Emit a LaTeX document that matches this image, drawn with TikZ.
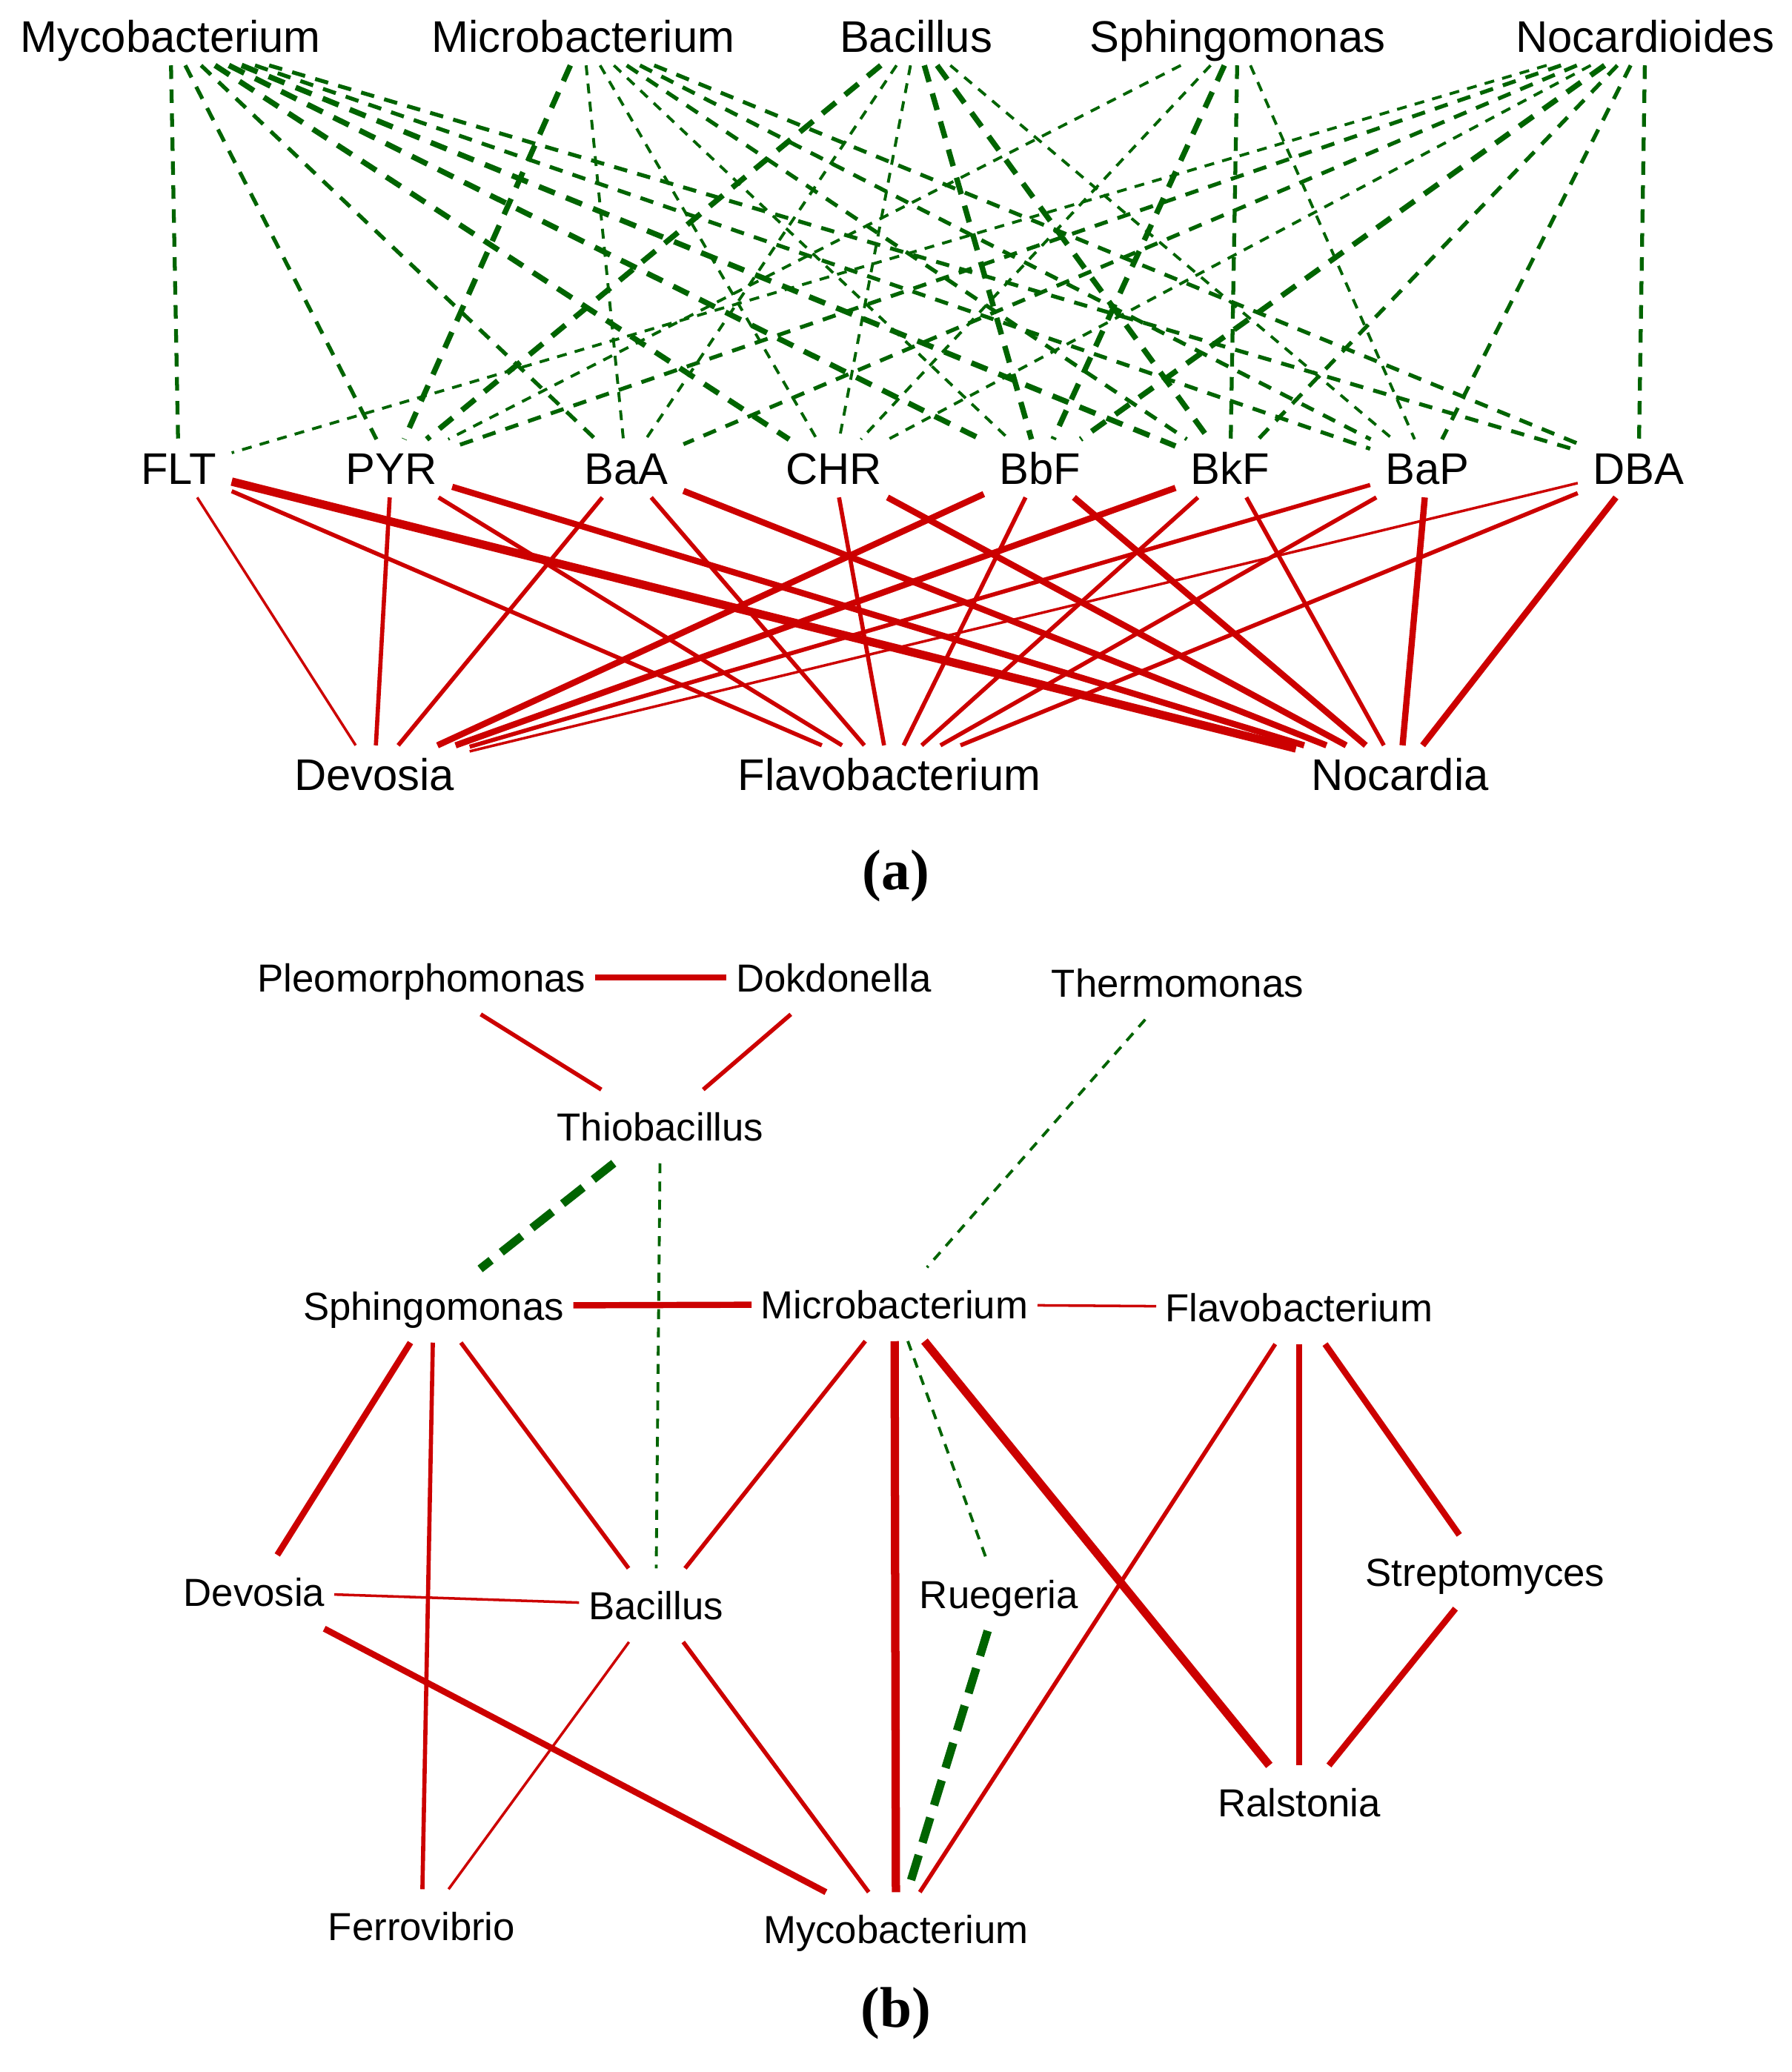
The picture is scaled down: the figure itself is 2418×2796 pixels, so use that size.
\documentclass[tikz,border=0pt]{standalone}
\usepackage{fontspec}
\setmainfont{Liberation Sans}
\newfontfamily\panelfont{Liberation Serif}
\usepackage{tikz}

\definecolor{netred}{RGB}{204,0,0}
\definecolor{netgreen}{RGB}{0,100,0}

\begin{document}
\begin{tikzpicture}[
    x=0.01cm, y=-0.01cm,
    taxon/.style={
        font=\fontsize{17}{20}\selectfont,
        text height=0.43cm,
        text depth=0pt,
        inner xsep=0.2cm,
        inner ysep=0.17cm
    },
    pah/.style={taxon},
    genus/.style={
        font=\fontsize{15}{18}\selectfont,
        text height=0.38cm,
        text depth=0pt,
        inner xsep=0.12cm,
        inner ysep=0.3cm
    },
    panel/.style={font=\panelfont\bfseries\fontsize{22}{26}\selectfont},
    redthin/.style={draw=netred, line width=1pt},
    redmid/.style={draw=netred, line width=1.6pt},
    redbold/.style={draw=netred, line width=2.4pt},
    redheavy/.style={draw=netred, line width=3.2pt},
    greenthin/.style={draw=netgreen, line width=1.1pt, dash pattern=on 3.8pt off 3.2pt},
    greenmid/.style={draw=netgreen, line width=1.5pt, dash pattern=on 5.2pt off 4pt},
    greenbold/.style={draw=netgreen, line width=2.1pt, dash pattern=on 6.6pt off 4.6pt},
    greenheavy/.style={draw=netgreen, line width=3.2pt, dash pattern=on 10pt off 5pt}
]
    \useasboundingbox (0,0) rectangle (2418,2796);

    % --- PANEL (a): TOP ROW ---
    \node[taxon] (myco)   at (230,49)  {Mycobacterium};
    \node[taxon] (micro)  at (787,49)  {Microbacterium};
    \node[taxon] (bac)    at (1236,49) {Bacillus};
    \node[taxon] (sphingo) at (1670,49) {Sphingomonas};
    \node[taxon] (nocdes) at (2220,49) {Nocardioides};

    % --- PANEL (a): PAHs ---
    \node[pah] (flt) at (241,632)  {FLT};
    \node[pah] (pyr) at (528,632)  {PYR};
    \node[pah] (baa) at (845,632)  {BaA};
    \node[pah] (chr) at (1125,632) {CHR};
    \node[pah] (bbf) at (1403,632) {BbF};
    \node[pah] (bkf) at (1660,632) {BkF};
    \node[pah] (bap) at (1926,632) {BaP};
    \node[pah] (dba) at (2211,632) {DBA};

    % --- PANEL (a): BOTTOM ROW ---
    \node[taxon] (devosia)  at (505,1045)  {Devosia};
    \node[taxon] (flavo)    at (1200,1045) {Flavobacterium};
    \node[taxon] (nocardia) at (1889,1045) {Nocardia};

    \node[panel] (capa) at (1209,1182) {(a)};

    % --- PANEL (a): NEGATIVE LINKS ---
    % Mycobacterium
    \draw[greenmid]  (myco) -- (flt);
    \draw[greenmid]  (myco) -- (pyr);
    \draw[greenmid]  (myco) -- (baa);
    \draw[greenbold] (myco) -- (chr);
    \draw[greenbold] (myco) -- (bbf);
    \draw[greenbold] (myco) -- (bkf);
    \draw[greenmid]  (myco) -- (bap);
    \draw[greenmid]  (myco) -- (dba);
    % Microbacterium
    \draw[greenbold] (micro) -- (pyr);
    \draw[greenthin] (micro) -- (baa);
    \draw[greenthin] (micro) -- (chr);
    \draw[greenthin] (micro) -- (bbf);
    \draw[greenmid]  (micro) -- (bkf);
    \draw[greenmid]  (micro) -- (bap);
    \draw[greenmid]  (micro) -- (dba);
    % Bacillus
    \draw[greenbold] (bac) -- (pyr);
    \draw[greenthin] (bac) -- (baa);
    \draw[greenthin] (bac) -- (chr);
    \draw[greenbold] (bac) -- (bbf);
    \draw[greenbold] (bac) -- (bkf);
    \draw[greenthin] (bac) -- (bap);
    % Sphingomonas
    \draw[greenthin] (sphingo) -- (pyr);
    \draw[greenthin] (sphingo) -- (chr);
    \draw[greenbold] (sphingo) -- (bbf);
    \draw[greenmid]  (sphingo) -- (bkf);
    \draw[greenthin] (sphingo) -- (bap);
    % Nocardioides
    \draw[greenthin] (nocdes) -- (flt);
    \draw[greenmid]  (nocdes) -- (pyr);
    \draw[greenmid]  (nocdes) -- (baa);
    \draw[greenthin] (nocdes) -- (chr);
    \draw[greenbold] (nocdes) -- (bbf);
    \draw[greenmid]  (nocdes) -- (bkf);
    \draw[greenmid]  (nocdes) -- (bap);
    \draw[greenmid]  (nocdes) -- (dba);

    % --- PANEL (a): POSITIVE LINKS ---
    \draw[redthin]  (flt) -- (devosia);
    \draw[redmid]   (flt) -- (flavo);
    \draw[redheavy] (flt) -- (nocardia);
    \draw[redmid]   (pyr) -- (devosia);
    \draw[redmid]   (pyr) -- (flavo);
    \draw[redbold]  (pyr) -- (nocardia);
    \draw[redmid]   (baa) -- (devosia);
    \draw[redmid]   (baa) -- (flavo);
    \draw[redbold]  (baa) -- (nocardia);
    \draw[redmid]   (chr) -- (flavo);
    \draw[redbold]  (chr) -- (nocardia);
    \draw[redbold]  (bbf) -- (devosia);
    \draw[redmid]   (bbf) -- (flavo);
    \draw[redbold]  (bbf) -- (nocardia);
    \draw[redbold]  (bkf) -- (devosia);
    \draw[redmid]   (bkf) -- (flavo);
    \draw[redmid]   (bkf) -- (nocardia);
    \draw[redmid]   (bap) -- (devosia);
    \draw[redmid]   (bap) -- (flavo);
    \draw[redbold]  (bap) -- (nocardia);
    \draw[redthin]  (dba) -- (devosia);
    \draw[redmid]   (dba) -- (flavo);
    \draw[redbold]  (dba) -- (nocardia);

    % --- PANEL (b): GENERA ---
    \node[genus] (pleo)      at (569,1319)  {Pleomorphomonas};
    \node[genus] (dokdo)     at (1125,1319) {Dokdonella};
    \node[genus] (thermo)    at (1589,1326) {Thermomonas};
    \node[genus] (thio)      at (891,1520)  {Thiobacillus};
    \node[genus] (bsphingo)  at (585,1762)  {Sphingomonas};
    \node[genus] (bmicro)    at (1207,1760) {Microbacterium};
    \node[genus] (bflavo)    at (1753,1764) {Flavobacterium};
    \node[genus] (bdevosia)  at (343,2148)  {Devosia};
    \node[genus] (bbacillus) at (885,2166)  {Bacillus};
    \node[genus] (bruegeria) at (1348,2151) {Ruegeria};
    \node[genus] (bstrepto)  at (2004,2121) {Streptomyces};
    \node[genus] (bralston)  at (1753,2432) {Ralstonia};
    \node[genus] (bferro)    at (569,2599)  {Ferrovibrio};
    \node[genus] (bmyco)     at (1209,2603) {Mycobacterium};

    \node[panel] (capb) at (1209,2717) {(b)};

    % --- PANEL (b): LINKS ---
    \draw[redbold]    (pleo) -- (dokdo);
    \draw[redmid]     (pleo) -- (thio);
    \draw[redmid]     (dokdo) -- (thio);
    \draw[greenthin]  (thermo) -- (bmicro);
    \draw[greenheavy] (thio) -- (bsphingo);
    \draw[greenthin]  (thio) -- (bbacillus);
    \draw[redbold]    (bsphingo) -- (bmicro);
    \draw[redthin]    (bmicro) -- (bflavo);
    \draw[redbold]    (bsphingo) -- (bdevosia);
    \draw[redmid]     (bsphingo) -- (bferro);
    \draw[redmid]     (bsphingo) -- (bbacillus);
    \draw[redmid]     (bmicro) -- (bbacillus);
    \draw[redheavy]   (bmicro) -- (bmyco);
    \draw[greenthin]  (bmicro) -- (bruegeria);
    \draw[redheavy]   (bmicro) -- (bralston);
    \draw[redmid]     (bflavo) -- (bmyco);
    \draw[redbold]    (bflavo) -- (bralston);
    \draw[redbold]    (bflavo) -- (bstrepto);
    \draw[redbold]    (bstrepto) -- (bralston);
    \draw[redthin]    (bdevosia) -- (bbacillus);
    \draw[redbold]    (bdevosia) -- (bmyco);
    \draw[redthin]    (bbacillus) -- (bferro);
    \draw[redmid]     (bbacillus) -- (bmyco);
    \draw[greenheavy] (bruegeria) -- (bmyco);

\end{tikzpicture}
\end{document}
